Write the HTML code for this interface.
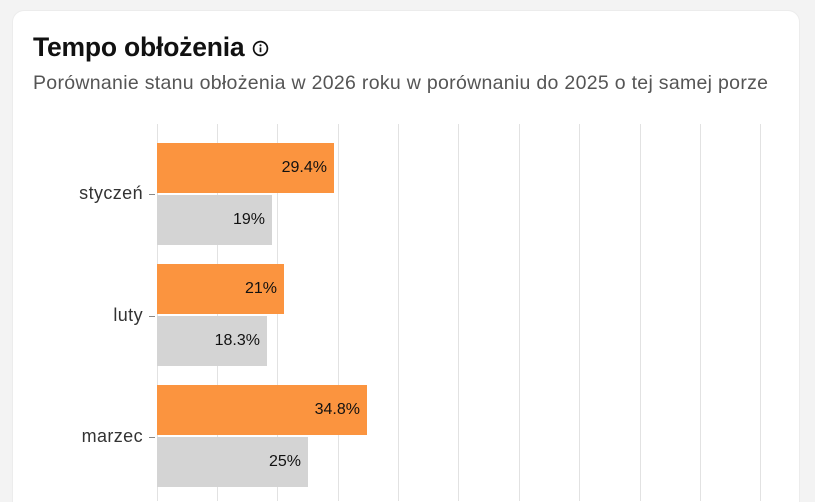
<!DOCTYPE html>
<html style="overflow:hidden;height:502px"><head><style>
body{margin:0;width:815px;height:502px;background:#f3f3f3;font-family:"Liberation Sans",sans-serif;overflow:hidden;position:relative}
.card{position:absolute;left:12px;top:10px;width:786px;height:491px;background:#fff;border-radius:12px 12px 0 0;border:1px solid #ececec;border-bottom:none}
.t{position:absolute;left:33px;top:32px;font-size:26.5px;font-weight:bold;color:#111;letter-spacing:-0.2px;white-space:nowrap}
.s{position:absolute;left:33px;top:72px;font-size:19.5px;color:#555;letter-spacing:0.3px;white-space:nowrap}
.g{position:absolute;top:124px;height:377px;width:1px;background:#e2e2e2}
.b{position:absolute;left:157px;height:50px;font-size:16px;color:#111;text-align:right;box-sizing:border-box;padding-right:7px;line-height:50px}
.o{background:#fb943f}.gr{background:#d4d4d4}
.l{position:absolute;right:672px;font-size:18px;color:#333;letter-spacing:0.4px}
.tk{position:absolute;left:149px;width:6px;height:1px;background:#888}
</style></head><body>
<div class="card"></div>
<div class="t">Tempo obłożenia <svg width="17" height="17" viewBox="0 0 16 16" style="vertical-align:-1px"><circle cx="8" cy="8" r="6.5" fill="none" stroke="#111" stroke-width="1.6"/><rect x="7.2" y="7" width="1.6" height="4.5" fill="#111"/><circle cx="8" cy="5" r="1" fill="#111"/></svg></div>
<div class="s">Porównanie stanu obłożenia w 2026 roku w porównaniu do 2025 o tej samej porze</div>
<div class="g" style="left:157px"></div><div class="g" style="left:217px"></div><div class="g" style="left:277px"></div><div class="g" style="left:338px"></div><div class="g" style="left:398px"></div><div class="g" style="left:458px"></div><div class="g" style="left:519px"></div><div class="g" style="left:579px"></div><div class="g" style="left:640px"></div><div class="g" style="left:700px"></div><div class="g" style="left:760px"></div>
<div class="b o" style="top:143px;width:177px">29.4%</div>
<div class="b gr" style="top:195px;width:115px">19%</div>
<div class="b o" style="top:264px;width:127px">21%</div>
<div class="b gr" style="top:316px;width:110px">18.3%</div>
<div class="b o" style="top:385px;width:210px">34.8%</div>
<div class="b gr" style="top:437px;width:151px">25%</div>
<div class="l" style="top:183px">styczeń</div><div class="tk" style="top:194px"></div>
<div class="l" style="top:305px">luty</div><div class="tk" style="top:316px"></div>
<div class="l" style="top:426px">marzec</div><div class="tk" style="top:437px"></div>
</body></html>
